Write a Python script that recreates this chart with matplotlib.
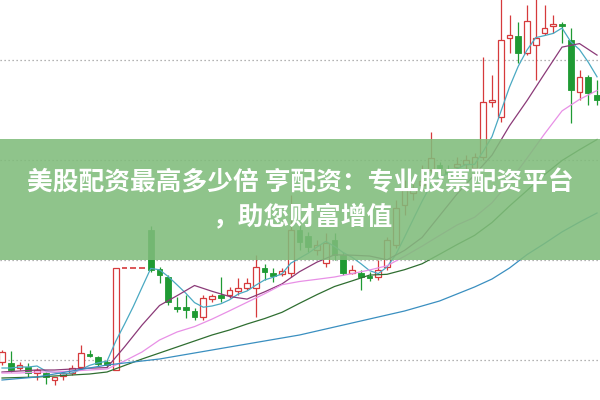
import matplotlib
matplotlib.use("Agg")
import matplotlib.pyplot as plt
from matplotlib.patches import Rectangle

# ---- data (price units) ----
opens = [8.8, 8.7, 8.2, 8.3, 7.7, 7.7, 7.0, 7.4, 7.7, 8.3,
         9.6, 9.3, 8.8, 8.0, 18.2, 18.2, 18.2, 22.0, 18.1, 17.3,
         14.3, 14.3, 13.9, 13.3, 15.1, 15.5, 15.5, 15.9, 16.2, 16.2,
         18.2, 17.7, 17.6, 17.7, 22.0, 21.4, 20.0, 18.7, 21.0, 19.5,
         17.7, 17.7, 17.4, 17.3, 18.3, 20.5, 24.5, 25.7, 26.5, 28.0,
         28.5, 28.0, 28.3, 28.6, 28.2, 29.3, 34.8, 33.3, 41.2, 41.4,
         39.7, 40.5, 41.7, 42.4, 42.6, 41.0, 35.8, 37.3, 35.5]
highs = [10.0, 9.9, 8.8, 8.7, 8.2, 7.8, 7.3, 7.9, 8.5, 10.5,
         10.0, 9.4, 9.0, 18.2, 18.2, 18.2, 18.2, 22.4, 18.3, 17.5,
         15.3, 15.5, 14.2, 15.5, 15.6, 17.3, 16.3, 17.2, 17.2, 19.5,
         18.6, 18.2, 18.2, 25.5, 22.5, 21.8, 21.0, 21.7, 21.7, 19.8,
         18.5, 18.0, 17.8, 19.0, 21.3, 25.0, 27.0, 27.0, 28.5, 31.8,
         28.8, 28.5, 29.3, 29.5, 29.7, 39.3, 37.5, 45.5, 43.5, 42.8,
         44.5, 45.5, 44.5, 43.5, 42.8, 42.2, 38.0, 37.5, 37.0]
lows = [8.5, 7.8, 8.0, 7.3, 7.0, 6.6, 6.5, 7.0, 7.5, 8.0,
        9.3, 8.4, 8.3, 8.0, 18.2, 18.2, 18.2, 17.8, 16.7, 14.5,
        13.8, 13.2, 13.0, 13.0, 14.8, 14.8, 15.2, 15.5, 16.0, 13.3,
        17.0, 16.8, 17.4, 17.3, 20.0, 19.8, 19.5, 18.3, 19.0, 17.5,
        17.6, 16.0, 16.9, 17.0, 18.0, 20.2, 23.5, 25.0, 26.0, 27.8,
        27.5, 27.3, 28.0, 28.0, 28.0, 29.0, 34.3, 32.8, 39.7, 38.7,
        39.5, 37.0, 41.5, 41.7, 40.7, 32.7, 35.0, 34.5, 34.5]
closes = [9.8, 8.0, 8.5, 7.7, 8.0, 7.3, 7.3, 7.7, 8.2, 9.7,
          9.4, 8.6, 8.5, 18.2, 18.2, 18.2, 18.2, 18.0, 17.5, 14.8,
          14.1, 14.0, 13.3, 15.2, 15.4, 15.2, 16.0, 16.2, 16.7, 18.3,
          17.8, 17.4, 17.9, 22.0, 20.8, 20.3, 20.5, 20.7, 19.5, 17.7,
          18.0, 17.3, 17.2, 18.0, 21.0, 24.2, 26.0, 26.2, 26.9, 29.2,
          28.2, 27.7, 28.6, 29.0, 29.3, 34.8, 35.0, 41.0, 41.5, 39.7,
          42.9, 41.2, 42.2, 42.6, 42.4, 36.0, 37.3, 35.7, 35.0]

ma5 = [8.2, 8.2, 8.3, 8.3, 8.4, 7.9, 7.76, 7.6, 7.7, 8.04,
       8.46, 8.72, 8.88, 10.88, 12.58, 14.34, 16.26, 18.16, 18.02, 17.34,
       16.52, 15.68, 14.74, 14.28, 14.4, 14.62, 15.02, 15.6, 15.9, 16.48,
       17.0, 17.28, 17.62, 18.68, 19.18, 19.68, 20.3, 20.86, 20.36, 19.74,
       19.28, 18.64, 17.94, 17.64, 18.3, 19.54, 21.28, 23.08, 24.86, 26.5,
       27.3, 27.64, 28.12, 28.54, 28.56, 29.88, 31.34, 33.82, 36.3, 38.38,
       40.0, 41.24, 41.44, 41.66, 42.2, 40.82, 40.04, 38.78, 37.32]

ma_idx = list(range(0, 69, 2))
ma10 = [7.8, 7.9, 8.0, 8.0, 8.1, 8.18, 8.24, 10.31, 12.49, 14.45, 15.43, 16.45,
        15.87, 15.35, 15.09, 15.81, 16.61, 17.83, 18.79, 19.52, 19.48, 19.4,
        19.02, 19.96, 21.25, 23.42, 25.6, 27.53, 29.49, 32.42, 34.94, 37.63,
        40.29, 40.64, 39.49]
ma20 = [7.7, 7.7, 7.8, 7.8, 7.9, 8.0, 8.1, 8.9, 9.8, 11.0, 11.8, 12.34,
        13.09, 13.92, 14.77, 15.62, 16.53, 16.85, 17.07, 17.3, 17.64, 18.0,
        18.42, 19.37, 20.38, 21.45, 22.5, 23.27, 24.72, 26.83, 29.18, 31.61,
        33.91, 35.06, 35.95]
ma30 = [7.2, 7.25, 7.3, 7.4, 7.5, 7.6, 7.8, 8.45, 9.1, 9.7, 10.3, 10.9,
        11.5, 12.0, 12.6, 13.14, 13.77, 14.67, 15.54, 16.35, 16.91, 17.49,
        17.57, 18.03, 18.62, 19.57, 20.54, 21.46, 22.75, 24.4, 25.95, 27.54,
        28.95, 30.03, 31.05]
ma60 = [7.0, 7.15, 7.3, 7.6, 7.9, 8.2, 8.5, 8.7, 8.9, 9.1, 9.4, 9.7,
        10.0, 10.3, 10.6, 10.9, 11.2, 11.5, 11.9, 12.3, 12.7, 13.1,
        13.5, 13.9, 14.4, 14.9, 15.6, 16.3, 17.1, 18.2, 19.54, 20.65,
        21.81, 22.79, 23.7]

grid_levels = [9, 19, 29, 39]
title_line1 = "美股配资最高多少倍 亨配资：专业股票配资平台"
title_line2 = "，助您财富增值"

# ---- style ----
RED = "#d63a3c"
GREEN = "#1f9a33"
C_MA5 = "#4aa9c2"
C_MA10 = "#8b3a78"
C_MA20 = "#e890e6"
C_MA30 = "#2f6e31"
C_MA60 = "#3a8fc0"

fig = plt.figure(figsize=(6, 4), dpi=100)
ax = fig.add_axes([0, 0, 1, 1])
ax.set_xlim(-0.23, 68.34)
ax.set_ylim(5, 45)
ax.axis("off")

for lv in grid_levels:
    ax.axhline(lv, color="#9a9a9a", lw=0.9, ls=(0, (1, 2.2)), zorder=1)

w = 0.68
for i, (o, h, l, c) in enumerate(zip(opens, highs, lows, closes)):
    up = c >= o
    top, bot = max(o, c), min(o, c)
    if up:
        if h > top:
            ax.vlines(i, top, h, color=RED, lw=0.9, zorder=2)
        if l < bot:
            ax.vlines(i, l, bot, color=RED, lw=0.9, zorder=2)
        if top - bot < 0.05:
            ax.hlines(top, i - w / 2, i + w / 2, color=RED, lw=1.2, zorder=3)
        else:
            ax.add_patch(Rectangle((i - w / 2, bot), w, top - bot,
                                   facecolor="white", edgecolor=RED, lw=0.9, zorder=3))
    else:
        ax.vlines(i, l, h, color=GREEN, lw=0.9, zorder=2)
        if top - bot < 0.05:
            ax.hlines(top, i - w / 2, i + w / 2, color=GREEN, lw=1.2, zorder=3)
        else:
            ax.add_patch(Rectangle((i - w / 2, bot), w, top - bot,
                                   facecolor=GREEN, edgecolor=GREEN, lw=0.6, zorder=3))

ax.plot(range(len(ma5)), ma5, color=C_MA5, lw=0.9, zorder=4)
ax.plot(ma_idx, ma10, color=C_MA10, lw=0.9, zorder=4)
ax.plot(ma_idx, ma20, color=C_MA20, lw=0.9, zorder=4)
ax.plot(ma_idx, ma30, color=C_MA30, lw=0.9, zorder=4)
ax.plot(ma_idx, ma60, color=C_MA60, lw=0.9, zorder=4)

# banner
fig.patches.append(Rectangle((0, 1 - 260 / 400), 1, 121 / 400, transform=fig.transFigure,
                             facecolor="#80bc7b", alpha=0.88, edgecolor="none", zorder=10))
fam = ["Noto Sans CJK SC", "DejaVu Sans"]
fig.text(0.5, 1 - 183 / 400, title_line1, ha="center", va="center", color="white",
         fontsize=18.5, fontweight="bold", family=fam, zorder=11)
fig.text(0.505, 1 - 217 / 400, title_line2, ha="center", va="center", color="white",
         fontsize=18.5, fontweight="bold", family=fam, zorder=11)

fig.savefig("out.png", dpi=100)
